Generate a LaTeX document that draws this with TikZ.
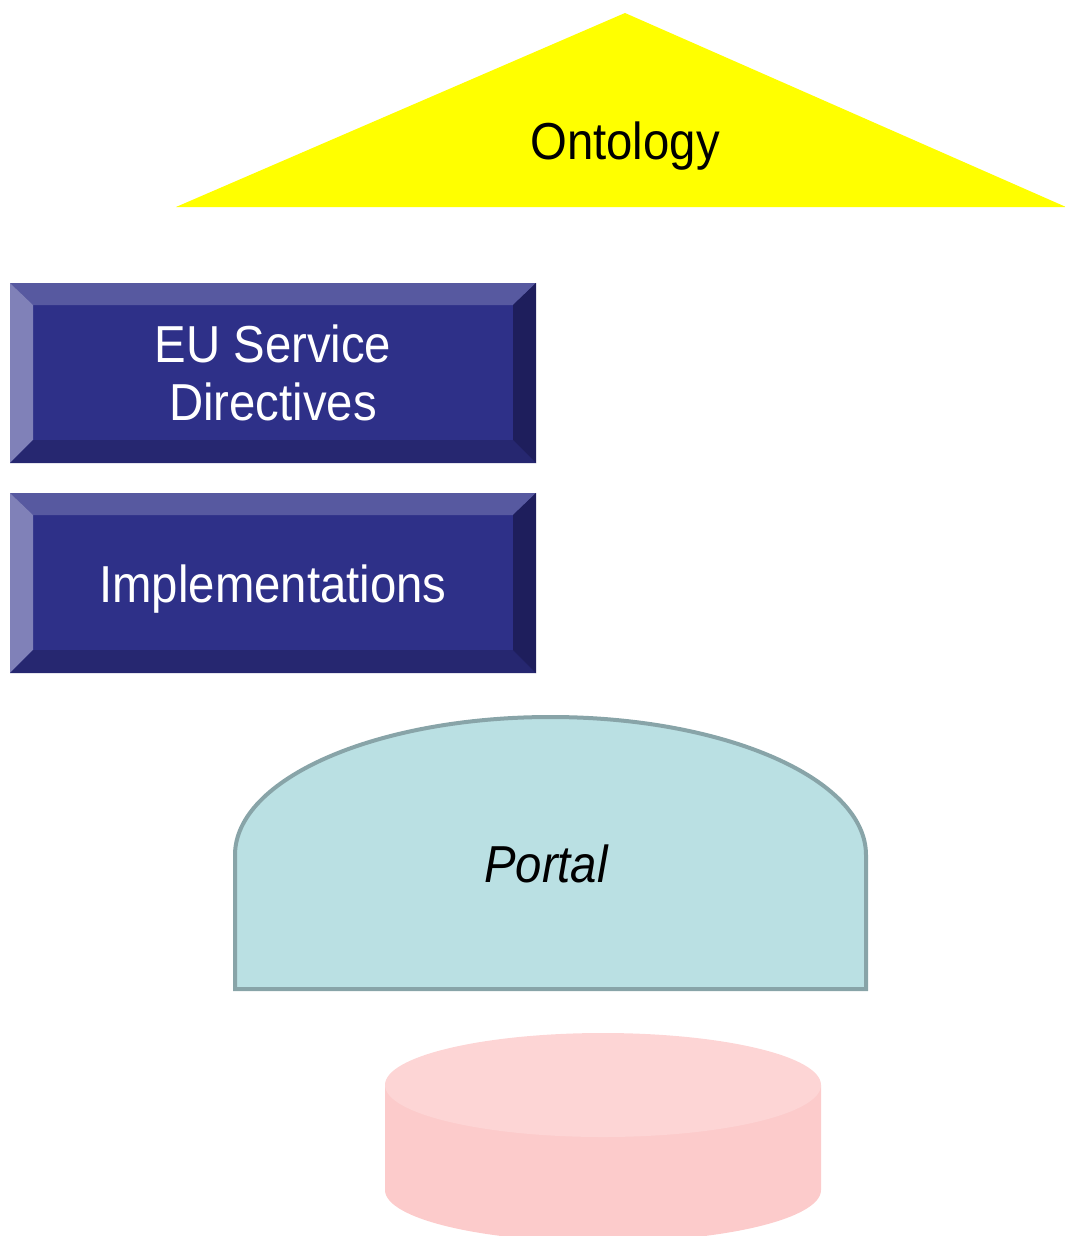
\documentclass[tikz,border=0pt]{standalone}
\usepackage{fontspec}
\setmainfont{Liberation Sans}[FakeStretch=0.91]
\definecolor{ontofill}{HTML}{FFFF00}
\definecolor{bvmain}{HTML}{2E3088}
\definecolor{bvtop}{HTML}{5759A0}
\definecolor{bvleft}{HTML}{8081B8}
\definecolor{bvbot}{HTML}{262770}
\definecolor{bvright}{HTML}{1E1E5C}
\definecolor{portalfill}{HTML}{BAE0E3}
\definecolor{portalline}{HTML}{88A4A8}
\definecolor{cyltop}{HTML}{FDD5D5}
\definecolor{cylbody}{HTML}{FCCBCB}
\tikzset{
  lbl/.style={font=\fontsize{52}{58}\selectfont, align=center, inner sep=0pt},
}
\newcommand{\mybevel}[4]{%
  \fill[bvmain] (#1,#2) rectangle (#3,#4);
  \fill[bvtop] (#1,#2) -- (#3,#2) -- ([xshift=-23,yshift=-22]#3,#2) -- ([xshift=23,yshift=-22]#1,#2) -- cycle;
  \fill[bvleft] (#1,#2) -- ([xshift=23,yshift=-22]#1,#2) -- ([xshift=23,yshift=23]#1,#4) -- (#1,#4) -- cycle;
  \fill[bvbot] (#1,#4) -- (#3,#4) -- ([xshift=-23,yshift=23]#3,#4) -- ([xshift=23,yshift=23]#1,#4) -- cycle;
  \fill[bvright] (#3,#2) -- (#3,#4) -- ([xshift=-23,yshift=23]#3,#4) -- ([xshift=-23,yshift=-22]#3,#2) -- cycle;
}
\begin{document}
\begin{tikzpicture}[x=1pt,y=-1pt]
\useasboundingbox (0,0) rectangle (1065,1236);
\clip (0,0) rectangle (1065,1236);
% Ontology triangle
\fill[ontofill] (625,13) -- (1066,207) -- (176,207) -- cycle;
\node[lbl, text=black] (onto) at (625,146) {Ontology};
% bevel boxes
\mybevel{10}{283}{536}{463}
\node[lbl, text=white] (eu) at (273,373) {EU Service\\Directives};
\mybevel{10}{493}{536}{673}
\node[lbl, text=white] (impl) at (273,589) {Implementations};
% Portal
\draw[portalline, fill=portalfill, line width=4pt]
  (235,989) -- (235,855) arc[start angle=180, end angle=360, x radius=315.5, y radius=138] -- (866,989) -- cycle;
\node[lbl, text=black, font=\fontsize{52}{58}\selectfont\itshape] (portal) at (546,864) {Portal};
% Cylinder
\fill[cylbody] (385,1085) -- (385,1190) arc[start angle=180, end angle=0, x radius=218, y radius=52] -- (821,1085) -- cycle;
\fill[cyltop] (603,1085) ellipse[x radius=218, y radius=52];
\end{tikzpicture}
\end{document}
